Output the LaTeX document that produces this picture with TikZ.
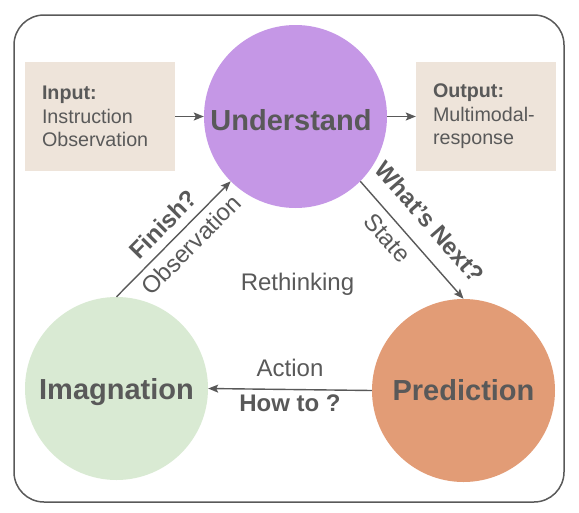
\documentclass[tikz,border=0pt]{standalone}
\usepackage{fontspec}
\setmainfont{Liberation Sans}
\usetikzlibrary{arrows.meta}
\definecolor{txt}{HTML}{595959}
\definecolor{cpurple}{HTML}{C597E6}
\definecolor{cgreen}{HTML}{D9EAD3}
\definecolor{corange}{HTML}{E29C76}
\definecolor{cbox}{HTML}{EEE4DA}
\tikzset{
  frame/.style={draw=txt, line width=1.5pt, rounded corners=30pt},
  circ/.style={circle, minimum size=183pt, inner sep=0pt},
  ctext/.style={anchor=base, text=txt, inner sep=0pt, font=\fontsize{29}{34}\selectfont\bfseries},
  iobox/.style={fill=cbox, minimum height=109pt, inner xsep=17pt, inner ysep=0pt, align=left, text=txt, font=\fontsize{19.7}{23.5}\selectfont},
  conn/.style={draw=txt, line width=1.4pt, -{Stealth[length=10pt,width=8pt,inset=2pt]}},
  lab/.style={text=txt, inner sep=0pt, font=\fontsize{24}{28}\selectfont},
  blab/.style={text=txt, inner sep=0pt, font=\fontsize{24}{28}\selectfont\bfseries},
}
\begin{document}
\begin{tikzpicture}[x=1pt,y=-1pt]
\useasboundingbox (0,0) rectangle (579,512);
\draw[frame] (14,15) rectangle (564,502);

\node[circ, fill=cpurple] (und) at (295.5,116.5) {};
\node[circ, fill=cgreen] (imag) at (116.5,388.5) {};
\node[circ, fill=corange] (pred) at (463.5,390.5) {};
\node[ctext] (undt) at (291,130) {Understand};
\node[ctext] (imagt) at (116.5,399) {Imagnation};
\node[ctext] (predt) at (463.5,400) {Prediction};

\node[iobox, text width=116pt] (in) at (100,116.5) {\textbf{Input:}\\Instruction\\Observation};
\node[iobox, text width=106pt] (out) at (486,116.5) {\textbf{Output:}\\Multimodal-\\response};

\draw[conn] (in.east) -- (in.east -| und.west);
\draw[conn] (out.west -| und.east) -- (out.west);

\draw[conn] (imag.north) -- (und.225)
  node[blab, pos=0.52, sloped, above=8.5pt] (fin) {Finish?}
  node[lab, pos=0.55, sloped, below=7pt] (obs) {Observation};
\draw[conn] (und.-45) -- (pred.north)
  node[blab, pos=0.49, sloped, above=16pt] (next) {What’s Next?}
  node[lab, pos=0.39, sloped, below=8pt] (state) {State};
\draw[conn] (pred.west) -- (imag.east)
  node[lab, midway, above=12pt] (act) {Action}
  node[blab, midway, below=5pt] (how) {How to ?};

\node[lab, anchor=base] (re) at (297.5,290) {Rethinking};
\end{tikzpicture}
\end{document}
